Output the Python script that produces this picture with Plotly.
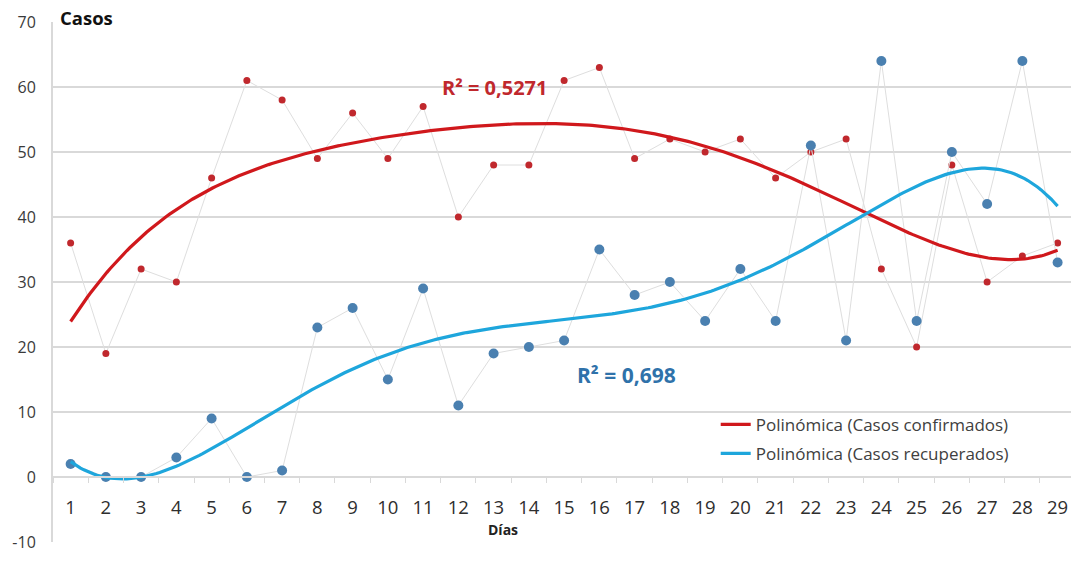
import numpy as np
import plotly.graph_objects as go

dias = list(range(1, 30))
confirmados = [36, 19, 32, 30, 46, 61, 58, 49, 56, 49, 57, 40, 48, 48, 61, 63, 49, 52, 50, 52, 46, 50, 52, 32, 20, 48, 30, 34, 36]
recuperados = [2, 0, 0, 3, 9, 0, 1, 23, 26, 15, 29, 11, 19, 20, 21, 35, 28, 30, 24, 32, 24, 51, 21, 64, 24, 50, 42, 64, 33]
y_ticks = [-10, 0, 10, 20, 30, 40, 50, 60, 70]
y_ticktext = ["-10", "0", "10", "20", "30", "40", "50", "60", "70"]
grado = 5  # polynomial trendline order (R² 0,5271 / 0,698)

x = np.array(dias, dtype=float)
xs = np.linspace(1, 29, 300)


def poly_fit(y, deg):
    c = np.polyfit(x, np.array(y, dtype=float), deg)
    return np.polyval(c, xs)


fit_c = poly_fit(confirmados, grado)
fit_r = poly_fit(recuperados, grado)

RED = "#c0282d"
BLUE_PT = "#4a80b0"
GRID = "#d9d9d9"
TXT = "#404040"

fig = go.Figure()
fig.add_trace(go.Scatter(x=dias, y=confirmados, mode="lines+markers",
                         line=dict(color="#dedede", width=1),
                         marker=dict(color=RED, size=7), showlegend=False))
fig.add_trace(go.Scatter(x=dias, y=recuperados, mode="lines+markers",
                         line=dict(color="#dedede", width=1),
                         marker=dict(color=BLUE_PT, size=10), showlegend=False))
fig.add_trace(go.Scatter(x=xs, y=fit_c, mode="lines", line=dict(color="#d0181c", width=3.2),
                         name="Polinómica (Casos confirmados)", legendgroup="a"))
fig.add_trace(go.Scatter(x=xs, y=fit_r, mode="lines", line=dict(color="#1ea6dc", width=3.2),
                         name="Polinómica (Casos recuperados)", legendgroup="b"))

fig.add_annotation(x=13.03, y=59.85, text="<b>R² = 0,5271</b>", showarrow=False,
                   font=dict(color=RED, size=20, family="Open Sans"))
fig.add_annotation(x=16.77, y=15.7, text="<b>R² = 0,698</b>", showarrow=False,
                   font=dict(color="#2f72aa", size=21, family="Open Sans"))
fig.add_annotation(x=13.26, y=-8.0, text="<b>Días</b>", showarrow=False,
                   font=dict(color="#222222", size=14, family="Open Sans"))
fig.add_annotation(x=0, y=1, xref="paper", yref="paper", text="<b>Casos</b>", showarrow=False,
                   xanchor="left", yanchor="middle", xshift=5, yshift=5,
                   font=dict(color="#111111", size=18.5, family="Open Sans"))

fig.update_layout(
    width=1071, height=565,
    margin=dict(l=53, r=0, t=22, b=23),
    plot_bgcolor="white", paper_bgcolor="white",
    font=dict(family="Open Sans", color=TXT),
    xaxis=dict(range=[0.5, 29.38], tickvals=dias, ticktext=[str(d) for d in dias],
               anchor="free", position=0.125, showgrid=False, zeroline=False, automargin=False,
               showline=True, linecolor=GRID, linewidth=2, ticks="",
               ticklabelstandoff=14, tickfont=dict(size=18.5, color="#2e2e2e"),
               minor=dict(tick0=0.5, dtick=1, ticks="outside", ticklen=5, tickcolor=GRID, showgrid=False)),
    yaxis=dict(range=[-10, 70], tickvals=y_ticks, ticktext=y_ticktext, showgrid=True, gridcolor=GRID,
               gridwidth=2, zeroline=False, showline=True, linecolor=GRID, linewidth=2, ticks="",
               automargin=False, ticklabelstandoff=12, tickfont=dict(size=16, color="#3a3a3a")),
    legend=dict(x=0.651, y=0.26, xanchor="left", yanchor="top", bgcolor="rgba(0,0,0,0)",
                font=dict(size=17, color=TXT), itemwidth=30, traceorder="grouped", tracegroupgap=4),
)

fig.write_html("out.html", config={"displayModeBar": False},
               post_script="document.body.style.margin='0';")
